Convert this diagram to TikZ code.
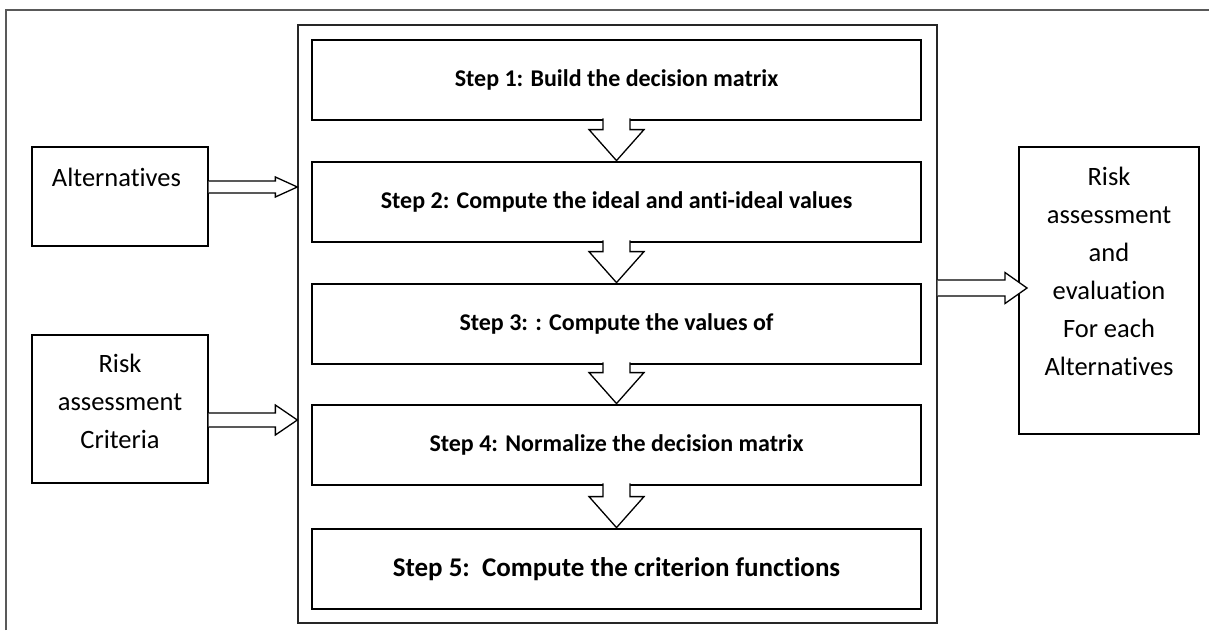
\documentclass[tikz,border=0pt]{standalone}
\usepackage{fontspec}
\setmainfont{Carlito}[Ligatures=CommonOff]
\usetikzlibrary{calc}
\newcommand{\vblockarrow}[2]{%
  \coordinate (#1-#2-tip) at (#1.south |- #2.north);
  \draw[blockarrow] ($(#1.south)+(-13.5,-3)$) -- ($(#1-#2-tip)+(-13.5,-31)$) -- ($(#1-#2-tip)+(-27.5,-31)$) -- (#1-#2-tip) -- ($(#1-#2-tip)+(27.5,-31)$) -- ($(#1-#2-tip)+(13.5,-31)$) -- ($(#1.south)+(13.5,-3)$);}
\newcommand{\hblockarrow}[5]{%
  \draw[blockarrow] ($(#1)+(0,-#3)$) -- ($(#2)+(-#5,-#3)$) -- ($(#2)+(-#5,-#4)$) -- (#2) -- ($(#2)+(-#5,#4)$) -- ($(#2)+(-#5,#3)$) -- ($(#1)+(0,#3)$);}
\begin{document}
\begin{tikzpicture}[x=1pt,y=-1pt,
  stepbox/.style={draw, line width=2.8pt, minimum width=609pt, minimum height=80pt, inner sep=0pt,
    font=\bfseries\fontsize{24}{28}\selectfont},
  sidebox/.style={draw, line width=1.2pt, inner sep=0pt},
  blockarrow/.style={draw, line width=1.3pt, fill=white, line join=miter},
  sidetext/.style={font=\fontsize{26.5}{38}\selectfont, align=center, inner sep=0pt}]
\useasboundingbox (0,0) rectangle (1209,630);
\fill[white] (0,0) rectangle (1209,630);
% outer frame
\draw[line width=2pt, draw=black!65] (6,630) -- (6,10) -- (1209,10);
% container
\node[draw, line width=1.3pt, draw=black!85, minimum width=639pt, minimum height=598pt, inner sep=0pt] (cont) at (617.5,324) {};
% steps
\node[stepbox] (s1) at (616.5,80) {Step 1: Build the decision matrix};
\node[stepbox] (s2) at (616.5,202) {Step 2: Compute the ideal and anti-ideal values};
\node[stepbox] (s3) at (616.5,324) {Step 3: : Compute the values of};
\node[stepbox] (s4) at (616.5,445) {Step 4: Normalize the decision matrix};
\node[stepbox, font=\bfseries\fontsize{27}{32}\selectfont] (s5) at (616.5,569) {Step 5:\ \ Compute the criterion functions};
\vblockarrow{s1}{s2}
\vblockarrow{s2}{s3}
\vblockarrow{s3}{s4}
\vblockarrow{s4}{s5}
% side boxes
\node[sidebox, minimum width=176pt, minimum height=99pt] (alt) at (120,196.5) {};
\node[sidetext] (altlbl) at (116.5,177) {Alternatives};
\node[sidebox, minimum width=176pt, minimum height=148pt] (crit) at (120,409) {};
\node[sidetext] (critlbl) at (120,401) {Risk\\assessment\\Criteria};
\node[sidebox, minimum width=180pt, minimum height=287pt] (res) at (1109,290.5) {};
\node[sidetext] (reslbl) at (1109,271) {Risk\\assessment\\and\\evaluation\\For each\\Alternatives};
% horizontal block arrows
\coordinate (t1) at (cont.west |- 0,187);
\coordinate (a1) at (alt.east |- t1);
\hblockarrow{a1}{t1}{6}{10}{22}
\coordinate (t2) at (cont.west |- 0,420);
\coordinate (a2) at (crit.east |- t2);
\hblockarrow{a2}{t2}{7}{15}{22}
\coordinate (t3) at (1027,288);
\coordinate (a3) at (cont.east |- t3);
\hblockarrow{a3}{t3}{8}{15.5}{22}
\end{tikzpicture}
\end{document}
